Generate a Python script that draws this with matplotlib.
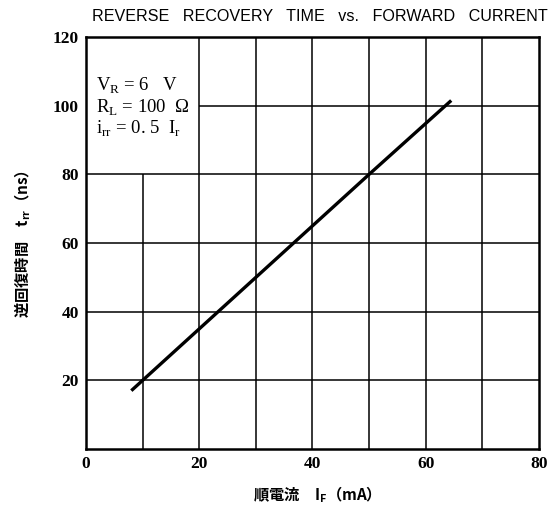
import numpy as np
import matplotlib.pyplot as plt

# curve: forward current (mA) vs reverse recovery time (ns)
i_f = [8, 10, 20, 30, 40, 50, 64.5]
t_rr = [17, 20, 35, 50, 65, 80, 101.5]

x_ticks = [0, 20, 40, 60, 80]
y_ticks = [20, 40, 60, 80, 100, 120]

# grid lines, (value, start, end) in data units; the note box has no grid
v_grid = [(10, 0, 80), (20, 0, 120), (30, 0, 120), (40, 0, 120),
          (50, 0, 120), (60, 0, 120), (70, 0, 120)]
h_grid = [(20, 0, 80), (40, 0, 80), (60, 0, 80), (80, 0, 80), (100, 20, 80)]

cjk = ['Noto Sans CJK JP', 'DejaVu Sans']

fig = plt.figure(figsize=(5.56, 5.08), dpi=100)
ax = fig.add_axes([0.1547, 0.1161, 0.8147, 0.8111])

for x, y0, y1 in v_grid:
    ax.vlines(x, y0, y1, color='black', lw=1.1)
for y, x0, x1 in h_grid:
    ax.hlines(y, x0, x1, color='black', lw=1.1)

ax.plot(i_f, t_rr, color='black', lw=2.4, solid_capstyle='butt')

ax.set_xlim(0, 80)
ax.set_ylim(0, 120)
ax.set_xticks(x_ticks)
ax.set_yticks(y_ticks)
ax.tick_params(length=0, pad=5)
for lab in ax.get_xticklabels() + ax.get_yticklabels():
    lab.set_fontfamily('Liberation Serif')
    lab.set_fontweight('bold')
    lab.set_fontsize(12.5)
for s in ax.spines.values():
    s.set_linewidth(1.8)

note = dict(family='Liberation Serif', fontsize=13.5, va='center')
ax.text(1.8, 105.9, r'V$_\mathregular{R}$ = 6   V', **note)
ax.text(1.8, 99.5, r'R$_\mathregular{L}$ = 100  Ω', **note)
ax.text(1.8, 93.2, r'i$_\mathregular{rr}$ = 0. 5  I$_\mathregular{r}$', **note)

fig.text(0.575, 0.967, 'REVERSE   RECOVERY   TIME   vs.   FORWARD   CURRENT',
         ha='center', va='center', family='Liberation Sans', fontsize=11.6)
ax.set_xlabel('順電流　I$_\\mathregular{F}$（mA）', family=cjk, fontsize=11,
              fontweight='bold', labelpad=9)
fig.text(0.04, 0.52, '逆回復時間　t$_\\mathregular{rr}$（ns）', family=cjk, fontsize=11,
         fontweight='bold', rotation=90, ha='center', va='center')

fig.savefig('out.png', dpi=100)
